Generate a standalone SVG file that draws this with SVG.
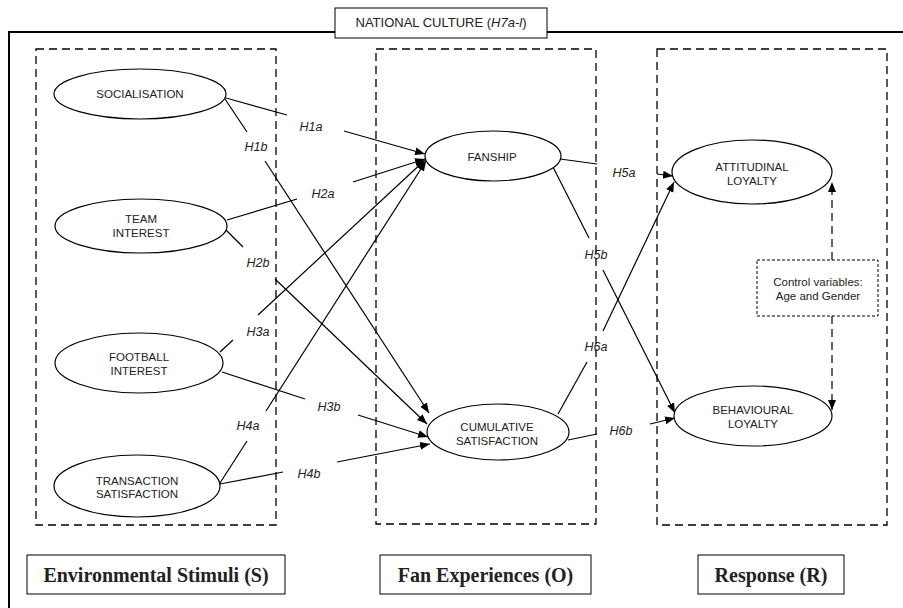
<svg xmlns="http://www.w3.org/2000/svg" width="903" height="608" viewBox="0 0 903 608">
<defs>
<marker id="arr" markerUnits="userSpaceOnUse" markerWidth="11" markerHeight="9" refX="10" refY="4" orient="auto">
<path d="M0,0 L10,4 L0,8 z" fill="#000"/>
</marker>
<style>
.frame{fill:none;stroke:#000;stroke-width:2}
.dbox{fill:none;stroke:#000;stroke-width:1.3;stroke-dasharray:8 5}
.node ellipse{fill:#fff;stroke:#000;stroke-width:1.2}
.nt{font-family:"Liberation Sans",Arial,sans-serif;font-size:11.5px;fill:#222;text-anchor:middle}
.hl{font-family:"Liberation Sans",Arial,sans-serif;font-size:12.5px;font-style:italic;fill:#222;text-anchor:middle}
.conn line{stroke:#000;stroke-width:1.2}
.arrow{marker-end:url(#arr)}
.dash{stroke-dasharray:8 5}
.lbox{fill:#fff;stroke:#000;stroke-width:1}
.lt{font-family:"Liberation Serif","Times New Roman",serif;font-size:20px;font-weight:bold;fill:#222;text-anchor:middle}
</style>
</defs>
<rect width="903" height="608" fill="#fff"/>

<!-- outer frame -->
<path class="frame" d="M9,608 L9,32 L903,32"/>
<g id="national-culture">
<rect x="335" y="8" width="212" height="30" class="lbox"/>
<text x="441" y="27" font-family="'Liberation Sans',Arial,sans-serif" font-size="13" fill="#222" text-anchor="middle">NATIONAL CULTURE (<tspan font-style="italic">H7a-l</tspan>)</text>
</g>

<!-- dashed section boxes -->
<rect class="dbox" x="36" y="49" width="240" height="476"/>
<rect class="dbox" x="376" y="49" width="220" height="475"/>
<rect class="dbox" x="657" y="49" width="230" height="476"/>

<!-- connectors -->
<g id="connectors" class="conn">
<!-- H1a -->
<line x1="226" y1="98" x2="287" y2="115"/>
<line class="arrow" x1="344" y1="131" x2="425" y2="154"/>
<!-- H1b -->
<line x1="225" y1="99" x2="247" y2="132"/>
<line class="arrow" x1="265" y1="161" x2="429" y2="413"/>
<!-- H2a -->
<line x1="227" y1="220" x2="297" y2="199"/>
<line class="arrow" x1="353" y1="182" x2="425" y2="159"/>
<!-- H2b -->
<line x1="226" y1="230" x2="243" y2="247"/>
<line class="arrow" x1="275" y1="279" x2="427" y2="424"/>
<!-- H3a -->
<line x1="220" y1="352" x2="233" y2="340"/>
<line class="arrow" x1="258" y1="315" x2="425" y2="160"/>
<!-- H3b -->
<line x1="222" y1="372" x2="305" y2="399"/>
<line class="arrow" x1="358" y1="415" x2="428" y2="437"/>
<!-- H4a -->
<line x1="220" y1="483" x2="247" y2="441"/>
<line class="arrow" x1="266" y1="411" x2="426" y2="161"/>
<!-- H4b -->
<line x1="220" y1="484" x2="283" y2="472"/>
<line class="arrow" x1="337" y1="462" x2="430" y2="444"/>
<!-- H5a -->
<line x1="560" y1="159" x2="597" y2="164"/>
<line class="arrow" x1="657" y1="174" x2="673" y2="176"/>
<!-- H5b -->
<line x1="553" y1="167" x2="589" y2="238"/>
<line class="arrow" x1="603" y1="270" x2="675" y2="413"/>
<!-- H6a -->
<line x1="558" y1="414" x2="587" y2="362"/>
<line class="arrow" x1="603" y1="331" x2="674" y2="182"/>
<!-- H6b -->
<line x1="568" y1="440" x2="597" y2="434"/>
<line class="arrow" x1="650" y1="424" x2="675" y2="418"/>
<!-- control variables -->
<line class="arrow dash" x1="832" y1="260" x2="832" y2="182"/>
<line class="arrow dash" x1="832" y1="316" x2="832" y2="410"/>
</g>

<!-- hypothesis labels -->
<g id="hyp-labels">
<text class="hl" x="311" y="131">H1a</text>
<text class="hl" x="256" y="151">H1b</text>
<text class="hl" x="323" y="198">H2a</text>
<text class="hl" x="258" y="267">H2b</text>
<text class="hl" x="258" y="336">H3a</text>
<text class="hl" x="329" y="411">H3b</text>
<text class="hl" x="248" y="430">H4a</text>
<text class="hl" x="309" y="478">H4b</text>
<text class="hl" x="624" y="177">H5a</text>
<text class="hl" x="596" y="259">H5b</text>
<text class="hl" x="596" y="351">H6a</text>
<text class="hl" x="621" y="435">H6b</text>
</g>

<!-- nodes -->
<g id="socialisation" class="node">
<ellipse cx="140" cy="94" rx="86" ry="25"/>
<text class="nt" x="140" y="98">SOCIALISATION</text>
</g>
<g id="team-interest" class="node">
<ellipse cx="141" cy="226" rx="86" ry="27"/>
<text class="nt" x="141" y="223">TEAM</text>
<text class="nt" x="141" y="237">INTEREST</text>
</g>
<g id="football-interest" class="node">
<ellipse cx="139" cy="363" rx="84" ry="30"/>
<text class="nt" x="139" y="361">FOOTBALL</text>
<text class="nt" x="139" y="375">INTEREST</text>
</g>
<g id="transaction-satisfaction" class="node">
<ellipse cx="137" cy="486" rx="83" ry="31"/>
<text class="nt" x="137" y="485">TRANSACTION</text>
<text class="nt" x="137" y="498">SATISFACTION</text>
</g>
<g id="fanship" class="node">
<ellipse cx="493" cy="156" rx="68" ry="25"/>
<text class="nt" x="492" y="161">FANSHIP</text>
</g>
<g id="cumulative-satisfaction" class="node">
<ellipse cx="498" cy="432" rx="71" ry="28"/>
<text class="nt" x="497" y="431">CUMULATIVE</text>
<text class="nt" x="497" y="445">SATISFACTION</text>
</g>
<g id="attitudinal-loyalty" class="node">
<ellipse cx="752" cy="172" rx="80" ry="32"/>
<text class="nt" x="752" y="171">ATTITUDINAL</text>
<text class="nt" x="752" y="185">LOYALTY</text>
</g>
<g id="behavioural-loyalty" class="node">
<ellipse cx="753" cy="416" rx="79" ry="30"/>
<text class="nt" x="753" y="414">BEHAVIOURAL</text>
<text class="nt" x="753" y="428">LOYALTY</text>
</g>
<g id="control-variables">
<rect x="757" y="260" width="121" height="56" fill="#fff" stroke="#000" stroke-width="1" stroke-dasharray="3 2"/>
<text class="nt" x="818" y="286">Control variables:</text>
<text class="nt" x="818" y="300">Age and Gender</text>
</g>

<!-- bottom labels -->
<g id="label-s">
<rect class="lbox" x="27" y="555" width="258" height="39"/>
<text class="lt" x="156" y="582">Environmental Stimuli (S)</text>
</g>
<g id="label-o">
<rect class="lbox" x="380" y="555" width="211" height="39"/>
<text class="lt" x="485.5" y="582">Fan Experiences (O)</text>
</g>
<g id="label-r">
<rect class="lbox" x="698" y="555" width="146" height="39"/>
<text class="lt" x="771" y="582">Response (R)</text>
</g>
</svg>
